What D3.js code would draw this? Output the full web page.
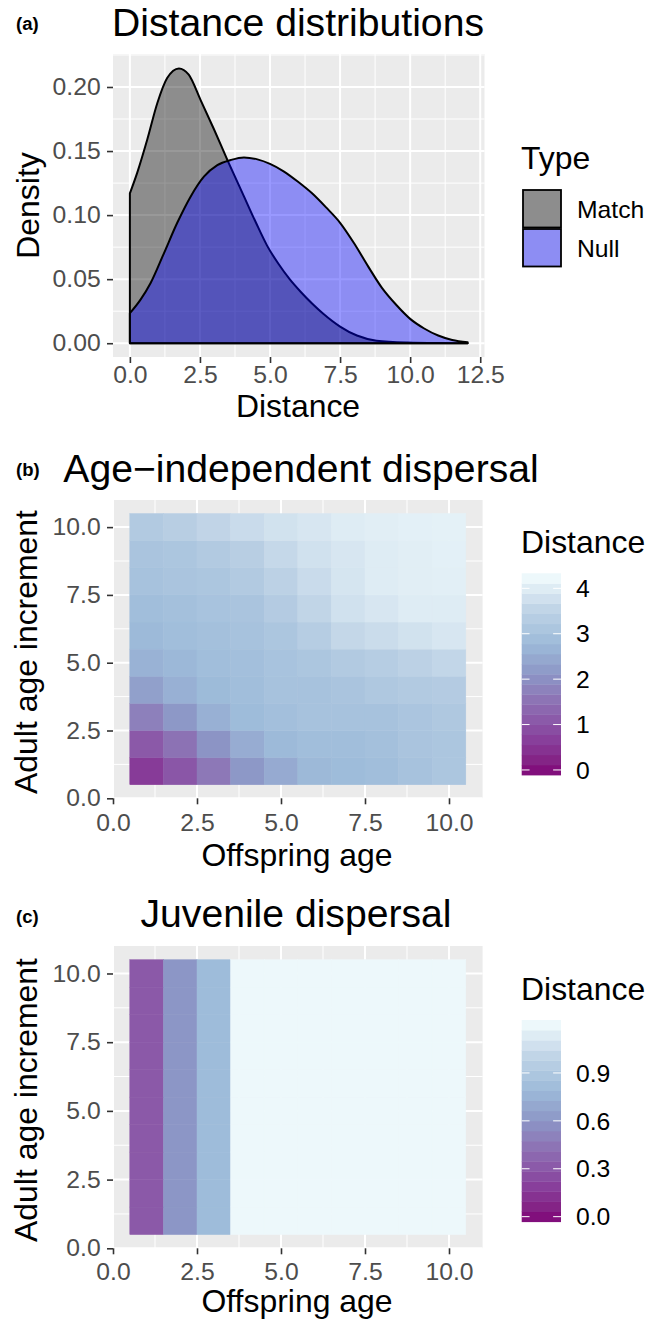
<!DOCTYPE html>
<html>
  <head>
    <meta charset="utf-8">
    <title>Distance distributions</title>
    <script src="https://d3js.org/d3.v7.min.js"></script>
    <style>
      body { margin: 0; background: #fff; }
    </style>
  </head>
  <body>
    <script>
      // ---- data ----
      // (a) density curves, sampled along the outline
      var matchX = [0, 0.26, 0.62, 0.98, 1.33, 1.75, 2.1, 2.52, 3.0, 3.5, 4.07, 4.5, 4.9, 5.3, 5.7, 6.1, 6.5, 6.9, 7.5, 8.1, 8.8, 9.9, 11.0, 12.05];
      var matchY = [0.117, 0.133, 0.159, 0.1875, 0.207, 0.2145, 0.2096, 0.19, 0.167, 0.142, 0.1146, 0.094, 0.076, 0.062, 0.050, 0.040, 0.031, 0.023, 0.013, 0.006, 0.002, 0.0005, 0.0001, 0];
      var nullX = [0, 0.38, 0.74, 1.21, 1.69, 2.17, 2.64, 3.12, 3.6, 4.07, 4.55, 5.0, 5.5, 6.0, 6.5, 7.0, 7.5, 8.0, 8.5, 9.0, 9.5, 10.0, 10.5, 11.0, 11.5, 12.05];
      var nullY = [0.0234, 0.034, 0.047, 0.070, 0.094, 0.1146, 0.130, 0.139, 0.143, 0.145, 0.1435, 0.140, 0.134, 0.126, 0.117, 0.106, 0.094, 0.078, 0.060, 0.043, 0.030, 0.019, 0.0115, 0.006, 0.0025, 0.0008];
      var densityTypes = ["Match", "Null"];

      var distTicks = [0, 2.5, 5, 7.5, 10, 12.5];
      var densTicks = [0, 0.05, 0.10, 0.15, 0.20];

      // (b) mean distance, rows = adult age increment 1..10, cols = offspring age 1..10
      var offspringAges = [1, 2, 3, 4, 5, 6, 7, 8, 9, 10];
      var adultIncrements = [1, 2, 3, 4, 5, 6, 7, 8, 9, 10];
      var ageIndepRows = [
        [0.60, 1.04, 1.62, 2.15, 2.48, 2.76, 2.81, 2.88, 3.00, 3.12],
        [1.09, 1.52, 2.08, 2.52, 2.78, 2.88, 2.88, 2.94, 3.06, 3.12],
        [1.75, 2.15, 2.59, 2.81, 2.91, 3.00, 3.00, 3.00, 3.09, 3.18],
        [2.30, 2.59, 2.79, 2.88, 3.00, 3.00, 3.06, 3.18, 3.24, 3.28],
        [2.63, 2.74, 2.88, 2.91, 3.03, 3.12, 3.24, 3.33, 3.46, 3.57],
        [2.78, 2.88, 2.94, 3.00, 3.12, 3.33, 3.59, 3.69, 3.80, 3.88],
        [2.88, 2.94, 3.03, 3.06, 3.28, 3.55, 3.78, 3.88, 3.99, 3.99],
        [3.00, 3.06, 3.12, 3.24, 3.46, 3.67, 3.86, 3.99, 4.03, 4.05],
        [3.06, 3.12, 3.24, 3.36, 3.61, 3.78, 3.88, 3.99, 4.03, 4.07],
        [3.24, 3.36, 3.54, 3.67, 3.80, 3.88, 3.99, 4.03, 4.07, 4.08]
      ];
      var ageIndepLimits = [0, 4.22];
      var ageIndepBreaks = [0, 1, 2, 3, 4];

      // (c) juvenile dispersal: same for every adult age increment
      var juvenileDist = [0.31, 0.60, 0.80, 1.2, 1.2, 1.2, 1.2, 1.2, 1.2, 1.2];
      var juvenileLimits = [0, 1.2];
      var juvenileBreaks = [0, 0.3, 0.6, 0.9];

      var ageTicks = [0, 2.5, 5, 7.5, 10];

      // ---- look ----
      var FONT = "'Liberation Sans', Arial, Helvetica, sans-serif";
      var SX = 1.03; // the figure's type runs a touch wide
      var TICK = 24, TITLE = 38, AXT = 31;
      var buPu7 = ["#edf8fb", "#bfd3e6", "#9ebcda", "#8c96c6", "#8c6bb1", "#88419d", "#810f7c"];
      var ramp = d3.piecewise(d3.interpolateLab, buPu7.slice().reverse());

      var svg = d3.select("body").append("svg")
        .attr("width", 660)
        .attr("height", 1320);
      svg.append("rect").attr("width", 660).attr("height", 1320).attr("fill", "#fff");

      function label(x, y, str, size, opts) {
        opts = opts || {};
        var tr = "translate(" + x + "," + y + ")";
        if (opts.rotate) tr += " rotate(" + opts.rotate + ")";
        tr += " scale(" + SX + ",1)";
        return svg.append("text")
          .attr("transform", tr)
          .attr("text-anchor", opts.anchor || "start")
          .attr("font-family", FONT)
          .attr("font-size", size)
          .attr("font-weight", opts.weight || "normal")
          .attr("fill", opts.fill || "#000")
          .attr("dy", opts.dy || 0)
          .text(str);
      }

      function minorOf(ticks, domain) {
        var out = [];
        for (var i = 0; i < ticks.length - 1; i++) out.push((ticks[i] + ticks[i + 1]) / 2);
        var step = ticks[1] - ticks[0];
        out.push(ticks[0] - step / 2, ticks[ticks.length - 1] + step / 2);
        return out.filter(function(v) { return v >= domain[0] && v <= domain[1]; });
      }

      function panel(x, y, xTicks, yTicks, xFmt, yFmt, xPad) {
        var g = svg.append("g");
        var x0 = x.range()[0], x1 = x.range()[1];
        var y0 = y.range()[0], y1 = y.range()[1];
        g.append("rect")
          .attr("x", x0).attr("y", y1)
          .attr("width", x1 - x0).attr("height", y0 - y1)
          .attr("fill", "#ebebeb");
        var grid = g.append("g").attr("stroke", "#fff").attr("fill", "none");
        grid.selectAll(".vmin").data(minorOf(xTicks, x.domain())).enter().append("line")
          .attr("x1", x).attr("x2", x).attr("y1", y0).attr("y2", y1).attr("stroke-width", 1);
        grid.selectAll(".hmin").data(minorOf(yTicks, y.domain())).enter().append("line")
          .attr("y1", y).attr("y2", y).attr("x1", x0).attr("x2", x1).attr("stroke-width", 1);
        grid.selectAll(".vmaj").data(xTicks).enter().append("line")
          .attr("x1", x).attr("x2", x).attr("y1", y0).attr("y2", y1).attr("stroke-width", 2);
        grid.selectAll(".hmaj").data(yTicks).enter().append("line")
          .attr("y1", y).attr("y2", y).attr("x1", x0).attr("x2", x1).attr("stroke-width", 2);

        var ax = svg.append("g").attr("transform", "translate(0," + y0 + ")")
          .call(d3.axisBottom(x).tickValues(xTicks).tickFormat(xFmt).tickSize(6).tickPadding(xPad));
        var ay = svg.append("g").attr("transform", "translate(" + x0 + ",0)")
          .call(d3.axisLeft(y).tickValues(yTicks).tickFormat(yFmt).tickSize(6).tickPadding(6));
        [ax, ay].forEach(function(a) {
          a.select(".domain").remove();
          a.selectAll(".tick line").attr("stroke", "#333").attr("stroke-width", 1.6);
          a.selectAll(".tick text")
            .attr("fill", "#4d4d4d")
            .attr("font-family", FONT)
            .attr("font-size", TICK)
            .attr("transform", "scale(" + SX + ",1)");
        });
        return g;
      }

      function colourbar(top, limits, breaks, fmt, title, titleY) {
        var left = 521.7, w = 39.3, h = 201.7, nbin = 20, bottom = top + h;
        var bh = h / nbin;
        label(521, titleY, title, AXT);
        var bins = d3.range(nbin).map(function(i) {
          return limits[0] + i * (limits[1] - limits[0]) / (nbin - 1);
        });
        svg.selectAll(null).data(bins).enter().append("rect")
          .attr("x", left)
          .attr("y", function(d, i) { return bottom - (i + 1) * bh; })
          .attr("width", w)
          .attr("height", bh + 0.4)
          .attr("fill", function(d) { return ramp((d - limits[0]) / (limits[1] - limits[0])); });
        var pos = d3.scaleLinear().domain(limits).range([bottom - 0.5 * bh, bottom - (nbin - 0.5) * bh]);
        breaks.forEach(function(b) {
          var yy = pos(b);
          svg.append("line").attr("x1", left).attr("x2", left + w / 5).attr("y1", yy).attr("y2", yy)
            .attr("stroke", "#fff").attr("stroke-width", 1);
          svg.append("line").attr("x1", left + w - w / 5).attr("x2", left + w).attr("y1", yy).attr("y2", yy)
            .attr("stroke", "#fff").attr("stroke-width", 1);
          label(576, yy, fmt(b), TICK, { dy: "0.36em" });
        });
      }

      // ---- (a) Distance distributions ----
      var xA = d3.scaleLinear().domain([-0.6025, 12.6525]).range([113, 484.5]);
      var yA = d3.scaleLinear().domain([-0.01075, 0.22575]).range([357, 54]);
      panel(xA, yA, distTicks, densTicks, d3.format(".1f"), d3.format(".2f"), 3);

      var area = d3.area()
        .x(function(d) { return xA(d[0]); })
        .y0(yA(0))
        .y1(function(d) { return yA(d[1]); })
        .curve(d3.curveMonotoneX);
      var curves = [
        { type: "Match", pts: d3.zip(matchX, matchY), fill: "#000" },
        { type: "Null", pts: d3.zip(nullX, nullY), fill: "#0000ff" }
      ];
      svg.selectAll(".dens").data(curves).enter().append("path")
        .attr("d", function(d) { return area(d.pts); })
        .attr("fill", function(d) { return d.fill; })
        .attr("fill-opacity", 0.4)
        .attr("stroke", "#000")
        .attr("stroke-width", 2)
        .attr("stroke-linejoin", "round");

      label(16, 30, "(a)", 18, { weight: "bold" });
      label(298, 36, "Distance distributions", TITLE, { anchor: "middle" });
      label(298, 417, "Distance", AXT, { anchor: "middle" });
      label(39, (yA.range()[0] + yA.range()[1]) / 2, "Density", AXT, { anchor: "middle", rotate: -90 });

      // legend (a)
      label(521, 169, "Type", AXT);
      densityTypes.forEach(function(t, i) {
        var c = curves[i];
        var ky = 190 + i * 39;
        svg.append("rect").attr("x", 523).attr("y", ky).attr("width", 38).attr("height", 37.5)
          .attr("fill", "#ebebeb");
        svg.append("rect").attr("x", 523).attr("y", ky).attr("width", 38).attr("height", 37.5)
          .attr("fill", c.fill).attr("fill-opacity", 0.4)
          .attr("stroke", "#000").attr("stroke-width", 1.8);
        label(577, ky + 19, t, TICK, { dy: "0.36em" });
      });

      // ---- heatmaps ----
      function heatmap(x, y, valueAt, limits) {
        var cells = [];
        adultIncrements.forEach(function(a, r) {
          offspringAges.forEach(function(o, c) {
            cells.push({ o: o, a: a, v: valueAt(r, c) });
          });
        });
        var fill = function(d) { return ramp((d.v - limits[0]) / (limits[1] - limits[0])); };
        svg.append("g").selectAll("rect").data(cells).enter().append("rect")
          .attr("x", function(d) { return x(d.o - 0.5); })
          .attr("y", function(d) { return y(d.a + 0.5); })
          .attr("width", function(d) { return x(d.o + 0.5) - x(d.o - 0.5); })
          .attr("height", function(d) { return y(d.a - 0.5) - y(d.a + 0.5); })
          .attr("fill", fill)
          .attr("stroke", fill)
          .attr("stroke-width", 0.5);
      }

      // (b) Age-independent dispersal
      var xB = d3.scaleLinear().domain([0, 11]).range([113, 482.6]);
      var yB = d3.scaleLinear().domain([0, 11]).range([798.3, 500]);
      panel(xB, yB, ageTicks, ageTicks, d3.format(".1f"), d3.format(".1f"), 10);
      heatmap(xB, yB, function(r, c) { return ageIndepRows[r][c]; }, ageIndepLimits);
      label(16, 476, "(b)", 18, { weight: "bold" });
      label(301, 482, "Age\u2212independent dispersal", TITLE, { anchor: "middle" });
      label(297, 866, "Offspring age", AXT, { anchor: "middle" });
      label(37, 652, "Adult age increment", AXT, { anchor: "middle", rotate: -90 });
      colourbar(573.3, ageIndepLimits, ageIndepBreaks, d3.format("d"), "Distance", 553);

      // (c) Juvenile dispersal
      var xC = d3.scaleLinear().domain([0, 11]).range([113, 482.6]);
      var yC = d3.scaleLinear().domain([0, 11]).range([1248.3, 946]);
      panel(xC, yC, ageTicks, ageTicks, d3.format(".1f"), d3.format(".1f"), 9);
      heatmap(xC, yC, function(r, c) { return juvenileDist[c]; }, juvenileLimits);
      label(16, 923, "(c)", 18, { weight: "bold" });
      label(296, 927, "Juvenile dispersal", TITLE, { anchor: "middle" });
      label(297, 1312, "Offspring age", AXT, { anchor: "middle" });
      label(37, 1100, "Adult age increment", AXT, { anchor: "middle", rotate: -90 });
      colourbar(1020, juvenileLimits, juvenileBreaks, d3.format(".1f"), "Distance", 1000);
    </script>
  </body>
</html>
